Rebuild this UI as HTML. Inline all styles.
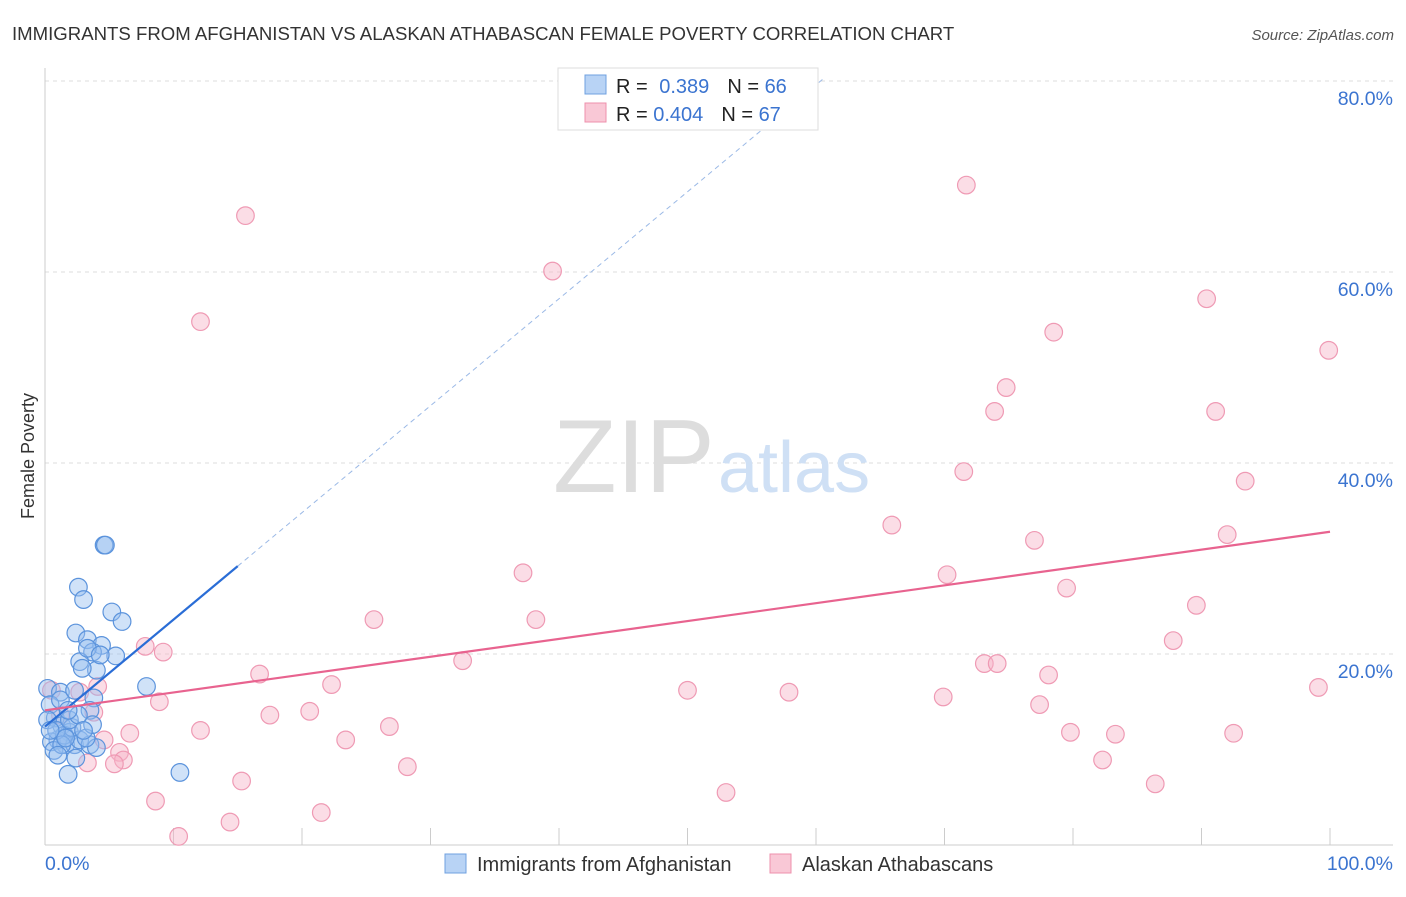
<!DOCTYPE html>
<html><head><meta charset="utf-8"><style>
body{margin:0;background:#fff;font-family:"Liberation Sans",sans-serif}
svg text{font-family:"Liberation Sans",sans-serif}
</style></head><body>
<svg id="chart" width="1406" height="892">
<text x="12" y="40" font-size="18.6" fill="#333">IMMIGRANTS FROM AFGHANISTAN VS ALASKAN ATHABASCAN FEMALE POVERTY CORRELATION CHART</text>
<text x="1394" y="40" font-size="15" fill="#555" font-style="italic" text-anchor="end">Source: ZipAtlas.com</text>
<text x="34" y="456" font-size="18" fill="#333" text-anchor="middle" transform="rotate(-90 34 456)">Female Poverty</text>
<g id="grid"></g>
<text x="553" y="492" font-size="104" fill="#ddd" font-family="Liberation Serif">ZIP</text>
<text x="718" y="492" font-size="72" fill="#cfe0f5">atlas</text>
<g id="points"></g>
<g id="trends"></g>
<g>
<rect x="558" y="68" width="260" height="62" fill="#fff" stroke="#ddd"/>
<rect x="585" y="75" width="21" height="19" fill="#b8d3f5" stroke="#6fa0e0"/>
<rect x="585" y="103" width="21" height="19" fill="#f9c8d6" stroke="#ee90ac"/>
<text x="616" y="93" font-size="20" fill="#222">R = <tspan fill="#3b74d0" dx="6">0.389</tspan><tspan dx="18" fill="#222">N = </tspan><tspan fill="#3b74d0">66</tspan></text>
<text x="616" y="121" font-size="20" fill="#222">R = <tspan fill="#3b74d0">0.404</tspan><tspan dx="18" fill="#222">N = </tspan><tspan fill="#3b74d0">67</tspan></text>
</g>
<g>
<rect x="445" y="854" width="21" height="19" fill="#b8d3f5" stroke="#6fa0e0"/>
<text x="477" y="871" font-size="20" fill="#333">Immigrants from Afghanistan</text>
<rect x="770" y="854" width="21" height="19" fill="#f9c8d6" stroke="#ee90ac"/>
<text x="802" y="871" font-size="20" fill="#333">Alaskan Athabascans</text>
</g>
</svg>
<script>
const yTicks=[20,40,60,80];
const yTickLabels=["20.0%","40.0%","60.0%","80.0%"];
const xTickLabels=["0.0%","100.0%"];
const blueX=[4.6,4.7,2.6,3.0,5.2,6.0,2.4,3.3,4.4,3.7,5.5,2.7,4.0,2.9,7.9,3.8,3.5,0.2,1.2,0.4,0.8,1.3,1.9,1.0,0.5,1.6,2.3,2.7,3.5,4.0,1.8,10.5,2.4,0.7,1.5,2.1,3.2,3.7,0.2,0.9,1.3,1.9,2.6,3.0,1.2,1.6,0.4,1.0,3.3,4.3,2.3,1.8];
const blueY=[31.4,31.4,27.0,25.7,24.4,23.4,22.2,21.5,20.9,20.2,19.8,19.2,18.3,18.5,16.6,15.4,14.1,16.4,16.0,14.7,13.3,12.5,11.8,11.0,10.8,10.5,10.5,11.0,10.5,10.2,7.4,7.6,9.1,9.9,11.5,12.3,11.2,12.6,13.1,12.0,10.5,13.1,13.6,12.0,15.2,11.2,12.0,9.4,20.6,19.9,16.2,14.1];
const pinkX=[15.6,12.1,39.5,71.7,90.4,78.5,99.9,74.8,73.9,91.1,71.5,93.4,65.9,77.0,92.0,37.2,70.2,79.5,89.6,38.2,25.6,87.8,7.8,9.2,32.5,73.1,74.1,16.7,78.1,22.3,4.1,99.1,50.0,57.9,2.7,8.9,69.9,77.4,20.6,17.5,3.8,12.1,26.8,79.8,83.3,92.5,6.6,4.6,23.4,5.8,6.1,5.4,3.3,28.2,82.3,15.3,53.0,86.4,8.6,21.5,14.4,10.4,0.5,1.2];
const pinkY=[65.9,54.8,60.1,69.1,57.2,53.7,51.8,47.9,45.4,45.4,39.1,38.1,33.5,31.9,32.5,28.5,28.3,26.9,25.1,23.6,23.6,21.4,20.8,20.2,19.3,19.0,19.0,17.9,17.8,16.8,16.6,16.5,16.2,16.0,16.0,15.0,15.5,14.7,14.0,13.6,13.9,12.0,12.4,11.8,11.6,11.7,11.7,11.0,11.0,9.7,8.9,8.5,8.6,8.2,8.9,6.7,5.5,6.4,4.6,3.4,2.4,0.9,16.2,13.6];
const blueTrend=[12.4,1.12];
const pinkTrend=[14.1,0.187];
const X=v=>45+v*12.85, Y=v=>845-v*9.55;
const NS="http://www.w3.org/2000/svg";
function mk(t,a,p){const e=document.createElementNS(NS,t);for(const k in a)e.setAttribute(k,a[k]);p.appendChild(e);return e;}
const g=document.getElementById('grid');
yTicks.forEach((t,i)=>{
 const l=mk('line',{x1:45,x2:1393,y1:Y(t),y2:Y(t),stroke:'#ddd','stroke-dasharray':'4,4'},g);
 
 
 const tx=mk('text',{x:1393,y:Y(t)+24,'font-size':19.5,fill:'#3b74d0','text-anchor':'end'},g);
 tx.textContent=yTickLabels[i];
 
 
});
const ax=mk('line',{x1:45,x2:1393,y1:845,y2:845,stroke:'#ccc'},g);


const ay=mk('line',{x1:45,x2:45,y1:68,y2:845,stroke:'#ccc'},g);


for(let i=0;i<=10;i++){
 const t=mk('line',{x1:X(i*10),x2:X(i*10),y1:828,y2:845,stroke:'#ccc'},g);
 
 
}
[[0,'start',45],[100,'end',1393]].forEach((d,i)=>{
 const tx=mk('text',{x:d[2],y:870,'font-size':19.5,fill:'#3b74d0','text-anchor':d[1]},g);
 tx.textContent=xTickLabels[i];
 
 
});
const pg=document.getElementById('points');
pinkX.forEach((x,i)=>{
 const c=mk('circle',{cx:X(x),cy:Y(pinkY[i]),r:8.8,fill:'rgba(246,180,200,0.45)',stroke:'#ef9ab4','stroke-width':1.2},pg);
 
 
});
blueX.forEach((x,i)=>{
 const c=mk('circle',{cx:X(x),cy:Y(blueY[i]),r:8.8,fill:'rgba(150,190,240,0.45)',stroke:'#5b93dc','stroke-width':1.2},pg);
 
 
});
const tg=document.getElementById('trends');
const bf=x=>blueTrend[0]+blueTrend[1]*x, pf=x=>pinkTrend[0]+pinkTrend[1]*x;
const b1=mk('line',{x1:X(0),y1:Y(bf(0)),x2:X(15),y2:Y(bf(15)),stroke:'#2a6dd6','stroke-width':2.2},tg);


const b2=mk('line',{x1:X(15),y1:Y(bf(15)),x2:X(60.5),y2:Y(bf(60.5)),stroke:'#9bb9e6','stroke-width':1,'stroke-dasharray':'5,4'},tg);


const p1=mk('line',{x1:X(0),y1:Y(pf(0)),x2:X(100),y2:Y(pf(100)),stroke:'#e8638f','stroke-width':2.2},tg);


</script>
</body></html>
